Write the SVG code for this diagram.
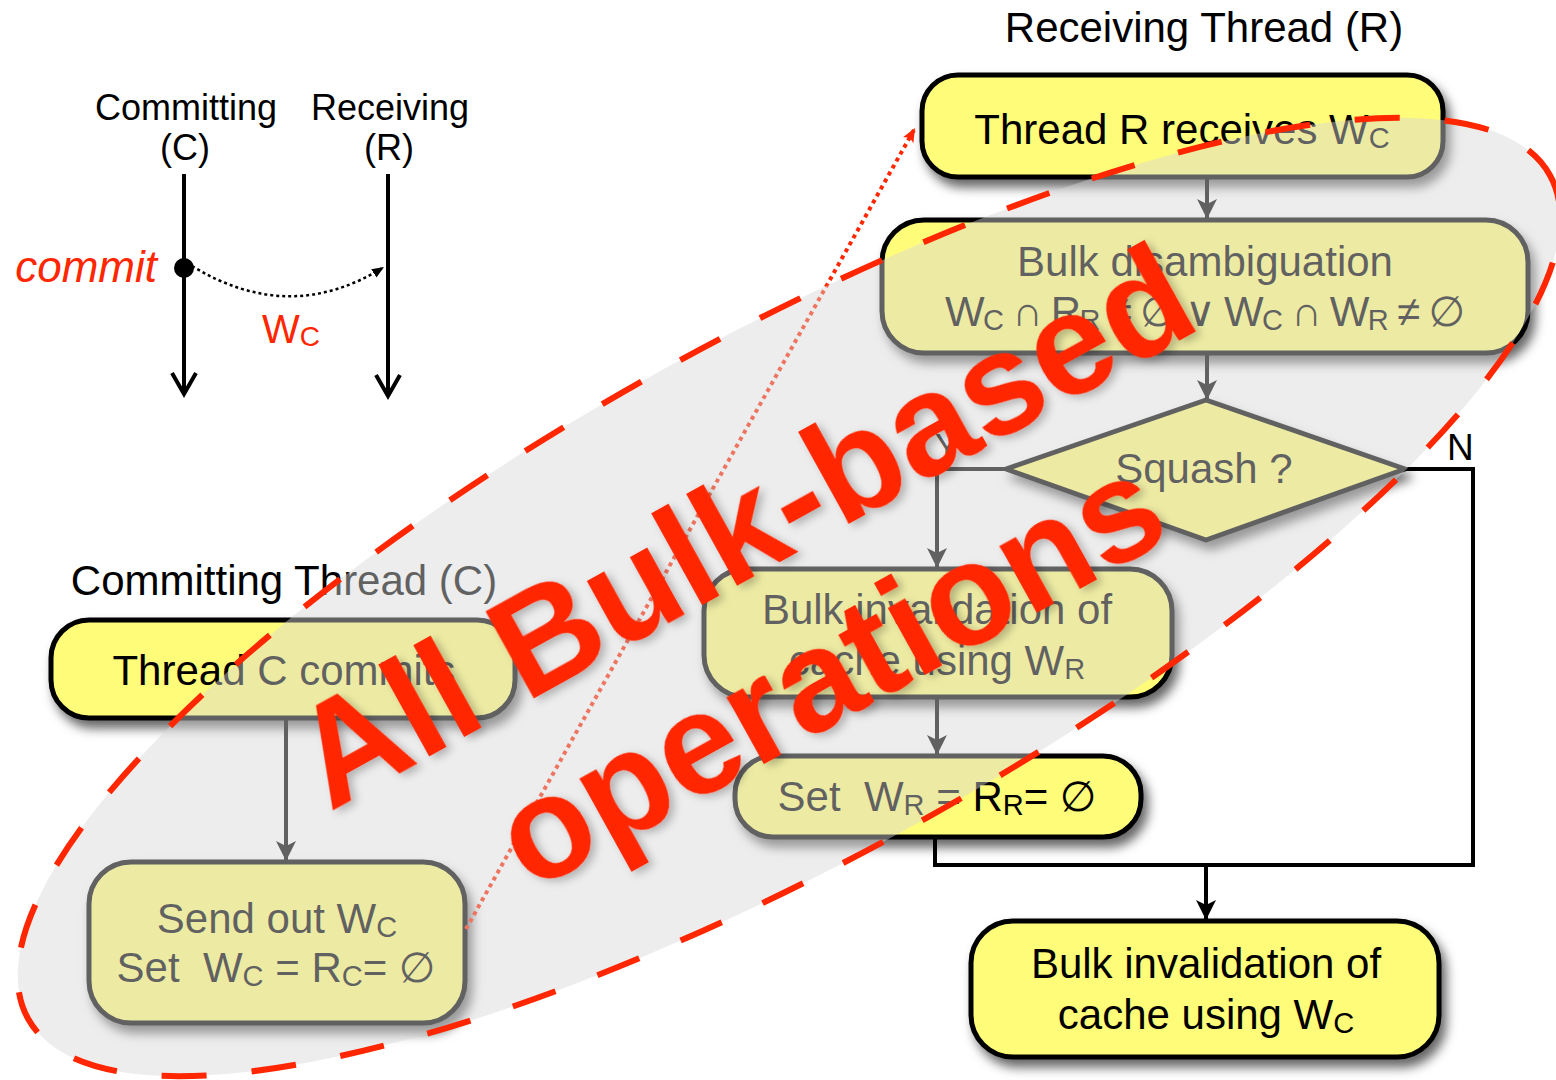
<svg xmlns="http://www.w3.org/2000/svg" width="1556" height="1080" viewBox="0 0 1556 1080">
<style>
  text { font-family: "Liberation Sans", Arial, Helvetica, "DejaVu Sans", sans-serif; white-space: pre; }
  .lbl { font-size: 42px; fill: #000; text-anchor: middle; }
  .head { font-size: 42px; fill: #000; text-anchor: middle; }
  .tl { font-size: 36px; fill: #000; text-anchor: middle; }
  .yn { font-size: 37px; fill: #000; }
  .sub { font-size: 29px; }
  .box { fill: #fffc79; stroke: #000; stroke-width: 5; filter: url(#shadow); }
  .wire { fill: none; stroke: #000; stroke-width: 4; }
  .arr { marker-end: url(#ah); }
  .life { fill: none; stroke: #000; stroke-width: 4; }
  .big { font-size: 144px; font-weight: bold; fill: #ff2600; text-anchor: middle; }
</style>
<defs>
  <filter id="shadow" x="-20%" y="-30%" width="145%" height="170%">
    <feDropShadow dx="5" dy="8" stdDeviation="5.5" flood-color="#000" flood-opacity="0.6"/>
  </filter>
  <filter id="tshadow" x="-10%" y="-10%" width="120%" height="130%">
    <feDropShadow dx="3" dy="5" stdDeviation="4" flood-color="#000" flood-opacity="0.25"/>
  </filter>
  <marker id="ah" markerUnits="userSpaceOnUse" markerWidth="22" markerHeight="22" refX="20" refY="10" orient="auto">
    <path d="M20,10 L0,0 L5,10 L0,20 Z" fill="#000"/>
  </marker>
  <marker id="ahr" markerUnits="userSpaceOnUse" markerWidth="16" markerHeight="14" refX="14" refY="6" orient="auto">
    <path d="M14,6 L0,0 L3,6 L0,12 Z" fill="#ff2600"/>
  </marker>
  <marker id="ahs" markerUnits="userSpaceOnUse" markerWidth="14" markerHeight="12" refX="12" refY="5" orient="auto">
    <path d="M12,5 L0,0 L0,10 Z" fill="#000"/>
  </marker>
</defs>

<rect width="1556" height="1080" fill="#fff"/>

<!-- small timeline: committing vs receiving thread -->
<g id="lifeline-c">
  <text class="tl" x="186" y="120">Committing</text>
  <text class="tl" x="185" y="160">(C)</text>
  <path class="life" d="M184,174 V393"/>
  <path class="life" d="M172,373 L184,394 L196,373"/>
  <circle cx="184" cy="268" r="10" fill="#000"/>
  <text x="157" y="282" font-size="44" font-style="italic" fill="#ff2600" text-anchor="end">commit</text>
</g>
<g id="lifeline-r">
  <text class="tl" x="390" y="120">Receiving</text>
  <text class="tl" x="389" y="160">(R)</text>
  <path class="life" d="M388,174 V395"/>
  <path class="life" d="M376,375 L388,396 L400,375"/>
</g>
<g id="message-wc">
  <path d="M192,266 Q290,326 384,267" fill="none" stroke="#000" stroke-width="2.5" stroke-dasharray="3 3" marker-end="url(#ahs)"/>
  <text x="262" y="343" font-size="40" fill="#ff2600">W<tspan font-size="28" dy="3">C</tspan></text>
</g>

<!-- thread headings -->
<text class="head" x="1204" y="42">Receiving Thread (R)</text>
<text class="head" x="284" y="595">Committing Thread (C)</text>

<!-- nodes -->
<g id="r-receive">
  <rect class="box" x="922" y="75" width="521" height="102" rx="36"/>
  <text class="lbl" x="1182" y="144">Thread R receives W<tspan class="sub" dy="4">C</tspan></text>
</g>
<g id="r-disambiguate">
  <rect class="box" x="882" y="220" width="646" height="133" rx="42"/>
  <text class="lbl" x="1205" y="276">Bulk disambiguation</text>
  <text class="lbl" x="1205" y="326" textLength="520" lengthAdjust="spacing">W<tspan class="sub" dy="4">C</tspan><tspan dy="-4"> ∩ R</tspan><tspan class="sub" dy="4">R</tspan><tspan dy="-4"> ≠ ∅ ∨ W</tspan><tspan class="sub" dy="4">C</tspan><tspan dy="-4"> ∩ W</tspan><tspan class="sub" dy="4">R</tspan><tspan dy="-4"> ≠ ∅</tspan></text>
</g>
<g id="r-squash">
  <polygon class="box" points="1206,400 1405,469 1206,540 1006,469" stroke-linejoin="round"/>
  <text class="lbl" x="1204" y="483">Squash ?</text>
</g>
<g id="r-invalidate-wr">
  <rect class="box" x="704" y="569" width="468" height="128" rx="42"/>
  <text class="lbl" x="937" y="624">Bulk invalidation of</text>
  <text class="lbl" x="937" y="675">cache using W<tspan class="sub" dy="4">R</tspan></text>
</g>
<g id="r-reset">
  <rect class="box" x="735" y="756" width="406" height="81" rx="38"/>
  <text class="lbl" x="937" y="811">Set  W<tspan class="sub" dy="4">R</tspan><tspan dy="-4"> = R</tspan><tspan class="sub" dy="4">R</tspan><tspan dy="-4">= ∅</tspan></text>
</g>
<g id="r-invalidate-wc">
  <rect class="box" x="971" y="921" width="468" height="136" rx="42"/>
  <text class="lbl" x="1206" y="978">Bulk invalidation of</text>
  <text class="lbl" x="1206" y="1029">cache using W<tspan class="sub" dy="4">C</tspan></text>
</g>
<g id="c-commit">
  <rect class="box" x="51" y="620" width="464" height="98" rx="38"/>
  <text class="lbl" x="284" y="685">Thread C commits</text>
</g>
<g id="c-send">
  <rect class="box" x="89" y="862" width="376" height="161" rx="42"/>
  <text class="lbl" x="277" y="933">Send out W<tspan class="sub" dy="4">C</tspan></text>
  <text class="lbl" x="276" y="982">Set  W<tspan class="sub" dy="4">C</tspan><tspan dy="-4"> = R</tspan><tspan class="sub" dy="4">C</tspan><tspan dy="-4">= ∅</tspan></text>
</g>

<!-- connectors -->
<g id="connectors">
  <path class="wire arr" d="M1207,177 V219"/>
  <path class="wire arr" d="M1207,353 V400"/>
  <path class="wire arr" d="M1006,469 H937 V568"/>
  <path class="wire arr" d="M937,697 V755"/>
  <path class="wire" d="M935,837 V865 H1473 V469 H1405"/>
  <path class="wire arr" d="M1206,865 V920"/>
  <path class="wire arr" d="M286,718 V861"/>
  <text class="yn" x="947" y="460" text-anchor="middle">Y</text>
  <text class="yn" x="1447" y="460">N</text>
  <path d="M466,929 L915,128" fill="none" stroke="#ff2600" stroke-width="4" stroke-dasharray="4 4" marker-end="url(#ahr)"/>
</g>

<!-- shaded region grouping the bulk operations -->
<g id="bulk-region">
  <ellipse cx="789" cy="597" rx="870" ry="260" transform="rotate(-29 789 597)" fill="#d6d6d6" fill-opacity="0.45"/>
  <ellipse cx="789" cy="597" rx="870" ry="260" transform="rotate(-29 789 597)" fill="none" stroke="#ff2600" stroke-width="6" stroke-dasharray="45 45"/>
</g>

<g id="callout" transform="translate(789 597) rotate(-29)" filter="url(#tshadow)">
  <text class="big" x="-6" y="-35">All Bulk-based</text>
  <text class="big" x="-1" y="134">operations</text>
</g>
</svg>
